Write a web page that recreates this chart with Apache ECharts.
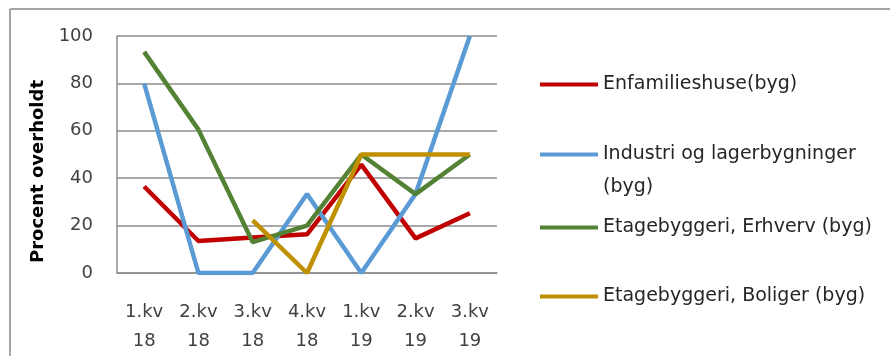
<!DOCTYPE html>
<html>
<head>
<meta charset="utf-8">
<script src="https://cdn.jsdelivr.net/npm/echarts@6/dist/echarts.min.js"></script>
<style>
    html, body { margin: 0; padding: 0; background: #fff; }
    #chart { width: 890px; height: 356px; }
</style>
</head>
<body>
<div id="chart"></div>
<script>
var categories = ['1.kv\n18', '2.kv\n18', '3.kv\n18', '4.kv\n18', '1.kv\n19', '2.kv\n19', '3.kv\n19'];
var yTicks = [0, 20, 40, 60, 80, 100];

var enfamilie = [36.5, 13.5, 15, 16.3, 45.7, 14.6, 25.2];
var industri = [80, 0, 0, 33.3, 0, 33.3, 100];
var erhverv = [93.3, 60.5, 13, 20, 50, 33.3, 50];
var boliger = [null, null, 22.2, 0, 50, 50, 50];

var names = ['Enfamilieshuse(byg)', 'Industri og lagerbygninger', 'Etagebyggeri, Erhverv (byg)', 'Etagebyggeri, Boliger (byg)'];
var colors = ['#c00000', '#5b9bd5', '#548235', '#bf9000'];

var font = 'DejaVu Sans';
var chart = echarts.init(document.getElementById('chart'));

// one legend per item so the uneven spacing can be kept
function legendItem(i, top) {
    return {
        data: [names[i]],
        left: 540,
        top: top,
        padding: 0,
        icon: 'rect',
        itemWidth: 58,
        itemHeight: 4,
        itemGap: 0,
        selectedMode: false,
        textStyle: { fontFamily: font, fontSize: 19, color: '#262626' }
    };
}

var option = {
    animation: false,
    color: colors,
    graphic: [
        { type: 'line', shape: { x1: 10, y1: 9, x2: 890, y2: 9 }, style: { stroke: '#a6a6a6', lineWidth: 2 } },
        { type: 'line', shape: { x1: 10, y1: 9, x2: 10, y2: 356 }, style: { stroke: '#a6a6a6', lineWidth: 2 } },
        {
            type: 'text', left: 29, top: 80, rotation: Math.PI / 2,
            style: { text: 'Procent overholdt', fontFamily: font, fontSize: 18, fontWeight: 'bold', fill: '#000' }
        },
        // second line of the Industri legend entry
        {
            type: 'text', left: 603, top: 178,
            style: { text: '(byg)', fontFamily: font, fontSize: 19, fill: '#262626' }
        }
    ],
    legend: [
        legendItem(0, 75),
        legendItem(1, 145),
        legendItem(2, 218),
        legendItem(3, 287)
    ],
    grid: { left: 117, right: 393, top: 36, bottom: 82 },
    xAxis: {
        type: 'category',
        data: categories,
        boundaryGap: true,
        axisLine: { show: true, lineStyle: { color: '#8c8c8c', width: 1.5 } },
        axisTick: { show: false },
        axisLabel: { fontFamily: font, fontSize: 18, color: '#404040', lineHeight: 29, margin: 25, interval: 0 }
    },
    yAxis: {
        type: 'value',
        min: yTicks[0],
        max: yTicks[yTicks.length - 1],
        interval: 20,
        axisLine: { show: true, lineStyle: { color: '#8c8c8c', width: 1.5 } },
        axisTick: { show: false },
        splitLine: { lineStyle: { color: '#8c8c8c', width: 1.5 } },
        axisLabel: { fontFamily: font, fontSize: 18, color: '#404040', margin: 24 }
    },
    series: [
        { name: names[0], type: 'line', data: enfamilie },
        { name: names[1], type: 'line', data: industri },
        { name: names[2], type: 'line', data: erhverv },
        { name: names[3], type: 'line', data: boliger }
    ].map(function (s, i) {
        s.symbol = 'none';
        s.lineStyle = { width: 4.5, color: colors[i] };
        s.itemStyle = { color: colors[i] };
        return s;
    })
};

chart.setOption(option);
</script>
</body>
</html>
